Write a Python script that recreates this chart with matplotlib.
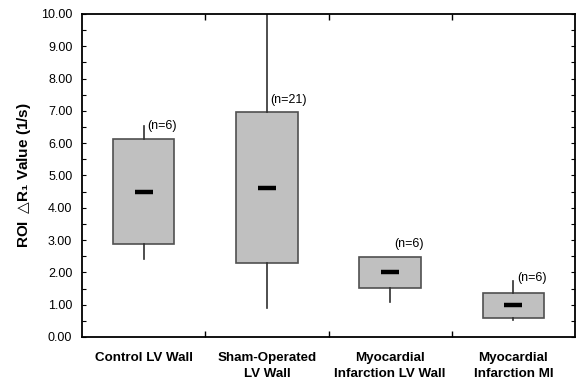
# Box chart of ROI delta R1 values per tissue group
import numpy as np
import matplotlib.pyplot as plt

plt.rcParams['font.family'] = ['Liberation Sans', 'DejaVu Sans']

# Data
groups = ['Control LV Wall', 'Sham-Operated\nLV Wall',
          'Myocardial\nInfarction LV Wall', 'Myocardial\nInfarction MI']
q1 = [2.88, 2.29, 1.53, 0.59]
q3 = [6.12, 6.97, 2.49, 1.36]
medians = [4.50, 4.62, 2.00, 0.98]
whis_lo = [2.41, 0.91, 1.08, 0.53]
whis_hi = [6.53, 10.5, 2.49, 1.72]
n_labels = ['(n=6)', '(n=21)', '(n=6)', '(n=6)']
n_label_y = [6.53, 7.34, 2.88, 1.83]

x = np.arange(1, len(groups) + 1)

fig = plt.figure(figsize=(5.83, 3.81), dpi=100)
ax = fig.add_axes([0.1407, 0.1155, 0.8456, 0.8478])

stats = []
for i in range(len(groups)):
    stats.append({'med': medians[i], 'q1': q1[i], 'q3': q3[i],
                  'whislo': whis_lo[i], 'whishi': whis_hi[i], 'fliers': []})

ax.bxp(stats, positions=x, widths=0.5, showcaps=False, showfliers=False,
       patch_artist=True,
       boxprops=dict(facecolor='#c0c0c0', edgecolor='#505050', linewidth=1.2),
       whiskerprops=dict(color='#303030', linewidth=1.2),
       medianprops=dict(linestyle='none'))

# short thick median marks
ax.scatter(x, medians, marker='_', s=160, linewidths=3.2, color='black', zorder=5)

for xi, lab, yi in zip(x, n_labels, n_label_y):
    ax.text(xi + 0.03, yi, lab, fontsize=9, ha='left', va='center')

ax.set_xlim(0.5, 4.5)
ax.set_ylim(0, 10)

# category boundaries as ticks, labels centred
ax.set_xticks(x[:-1] + 0.5)
ax.set_xticklabels([])
ax.set_xticks(x, minor=True)
ax.set_xticklabels(groups, minor=True, fontsize=9.6, fontweight='bold', linespacing=1.4)
ax.tick_params(axis='x', which='major', direction='in', length=4, top=True, width=1)
ax.tick_params(axis='x', which='minor', length=0, pad=11)

ax.set_yticks(np.arange(0, 10.01, 1))
ax.set_yticklabels(['%.2f' % v for v in np.arange(0, 10.01, 1)])
ax.set_yticks(np.arange(0, 10.01, 0.5), minor=True)
ax.tick_params(axis='y', which='both', direction='in', length=3, right=True,
               labelsize=9, pad=7, width=0.8)

for s in ax.spines.values():
    s.set_linewidth(1.3)

ax.set_ylabel('ROI $\\triangle\\!$R\u2081 Value (1/s)', fontsize=11, fontweight='bold', labelpad=6)

plt.savefig('out.png', dpi=100)
